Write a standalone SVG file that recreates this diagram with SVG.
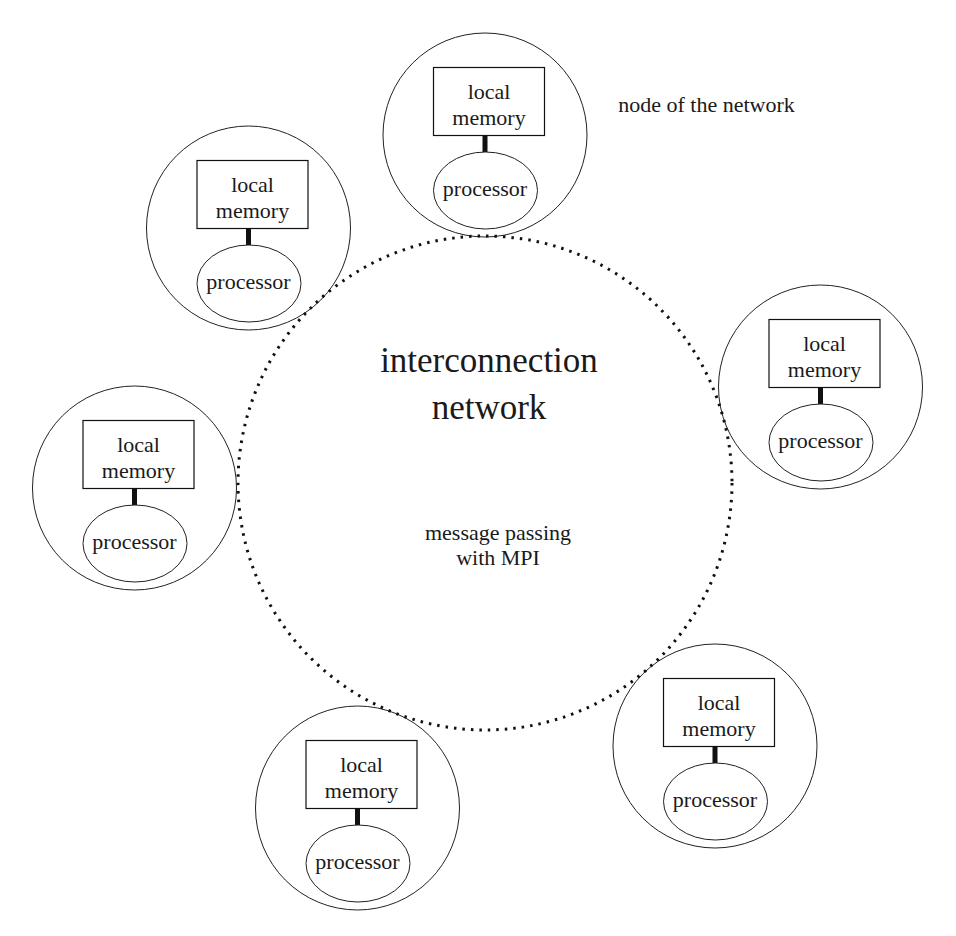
<svg xmlns="http://www.w3.org/2000/svg" width="956" height="936" viewBox="0 0 956 936">
<defs>
<style>
text{font-family:"Liberation Serif","DejaVu Serif",serif;fill:#1a1a1a;text-anchor:middle}
.t{font-size:22px}
.big{font-size:35px}
.outer{fill:none;stroke:#222;stroke-width:1}
.mem{fill:#fff;stroke:#111;stroke-width:1.2}
.proc{fill:#fff;stroke:#222;stroke-width:1}
.link{stroke:#111;stroke-width:5}
.net{fill:none;stroke:#111;stroke-width:3;stroke-dasharray:2.5 6}
</style>
</defs>
<rect width="956" height="936" fill="#fff"/>
<g id="node1" transform="translate(485 135)">
<circle class="outer" cx="0" cy="0" r="102"/>
<rect class="mem" x="-51.5" y="-67.5" width="111" height="68"/>
<line class="link" x1="0" y1="0.5" x2="0" y2="17"/>
<ellipse class="proc" cx="0.5" cy="55.5" rx="52" ry="38.5"/>
<text class="t" x="4" y="-36.5">local</text>
<text class="t" x="4" y="-10.5">memory</text>
<text class="t" x="0" y="61">processor</text>
</g>
<g id="node2" transform="translate(248.5 228)">
<circle class="outer" cx="0" cy="0" r="102"/>
<rect class="mem" x="-51.5" y="-67.5" width="111" height="68"/>
<line class="link" x1="0" y1="0.5" x2="0" y2="17"/>
<ellipse class="proc" cx="0.5" cy="55.5" rx="52" ry="38.5"/>
<text class="t" x="4" y="-36.5">local</text>
<text class="t" x="4" y="-10.5">memory</text>
<text class="t" x="0" y="61">processor</text>
</g>
<g id="node3" transform="translate(820.5 387)">
<circle class="outer" cx="0" cy="0" r="102"/>
<rect class="mem" x="-51.5" y="-67.5" width="111" height="68"/>
<line class="link" x1="0" y1="0.5" x2="0" y2="17"/>
<ellipse class="proc" cx="0.5" cy="55.5" rx="52" ry="38.5"/>
<text class="t" x="4" y="-36.5">local</text>
<text class="t" x="4" y="-10.5">memory</text>
<text class="t" x="0" y="61">processor</text>
</g>
<g id="node4" transform="translate(134.5 488)">
<circle class="outer" cx="0" cy="0" r="102"/>
<rect class="mem" x="-51.5" y="-67.5" width="111" height="68"/>
<line class="link" x1="0" y1="0.5" x2="0" y2="17"/>
<ellipse class="proc" cx="0.5" cy="55.5" rx="52" ry="38.5"/>
<text class="t" x="4" y="-36.5">local</text>
<text class="t" x="4" y="-10.5">memory</text>
<text class="t" x="0" y="61">processor</text>
</g>
<g id="node5" transform="translate(715 746)">
<circle class="outer" cx="0" cy="0" r="102"/>
<rect class="mem" x="-51.5" y="-67.5" width="111" height="68"/>
<line class="link" x1="0" y1="0.5" x2="0" y2="17"/>
<ellipse class="proc" cx="0.5" cy="55.5" rx="52" ry="38.5"/>
<text class="t" x="4" y="-36.5">local</text>
<text class="t" x="4" y="-10.5">memory</text>
<text class="t" x="0" y="61">processor</text>
</g>
<g id="node6" transform="translate(357.5 808)">
<circle class="outer" cx="0" cy="0" r="102"/>
<rect class="mem" x="-51.5" y="-67.5" width="111" height="68"/>
<line class="link" x1="0" y1="0.5" x2="0" y2="17"/>
<ellipse class="proc" cx="0.5" cy="55.5" rx="52" ry="38.5"/>
<text class="t" x="4" y="-36.5">local</text>
<text class="t" x="4" y="-10.5">memory</text>
<text class="t" x="0" y="61">processor</text>
</g>
<g id="connectors">
<circle class="net" cx="485" cy="483" r="247"/>
</g>
<g id="network">
<text class="big" x="489" y="372">interconnection</text>
<text class="big" x="489" y="419">network</text>
<text class="t" x="498" y="540">message passing</text>
<text class="t" x="498" y="565">with MPI</text>
</g>
<g id="label">
<text class="t" x="706.5" y="112">node of the network</text>
</g>
</svg>
